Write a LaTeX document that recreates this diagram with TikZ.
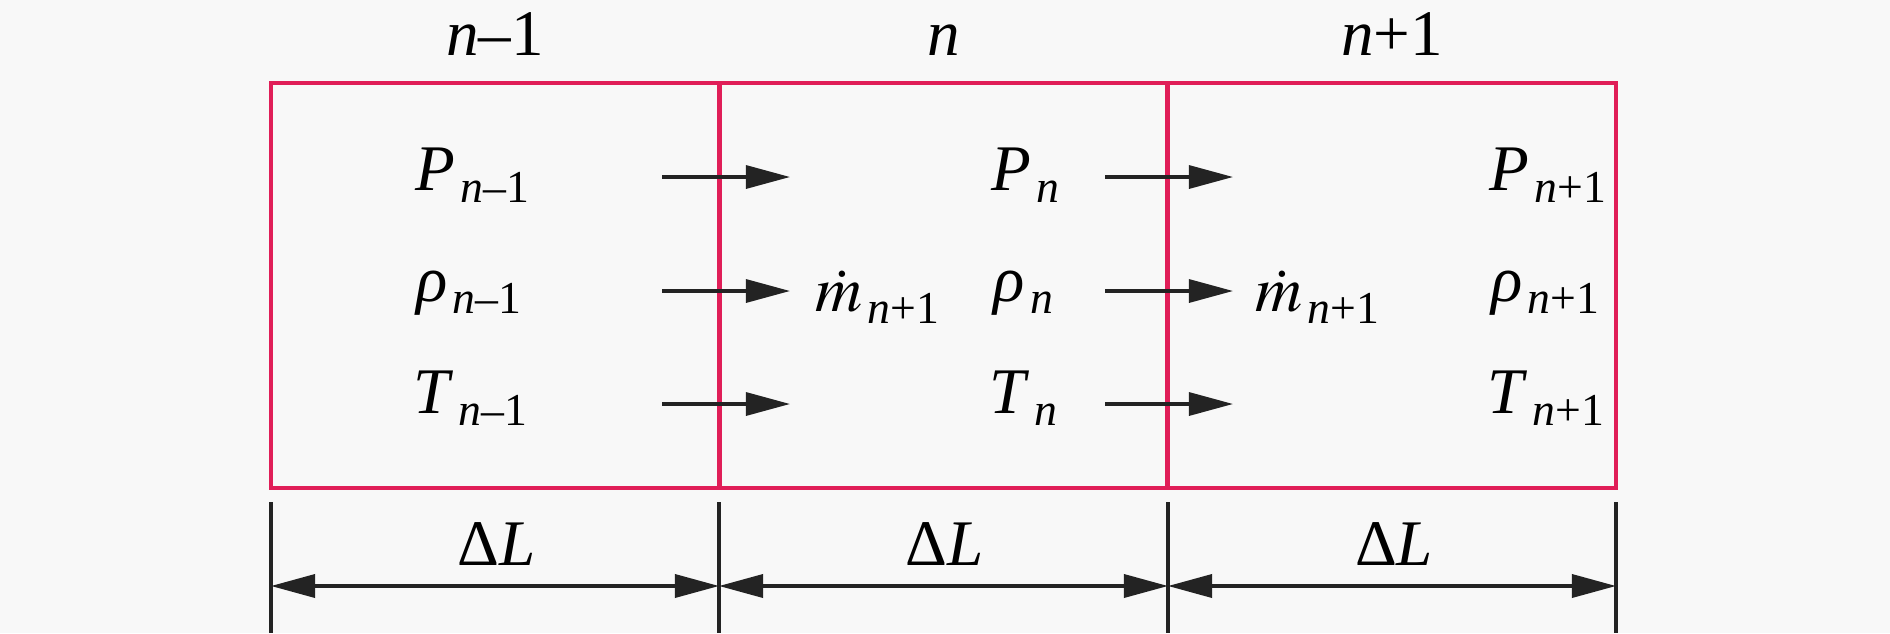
\documentclass[tikz,border=0pt]{standalone}
\usepackage{mathptmx}
\usepackage[no-math]{fontspec}
\setmainfont{Liberation Serif}
\usepackage{tikz}
\usetikzlibrary{
  arrows.meta,
  positioning
}
\definecolor{cellred}{RGB}{224,30,88}
\definecolor{inkgray}{RGB}{35,35,35}
\definecolor{paper}{RGB}{248,248,248}
\newcommand{\sub}[1]{\kern1.5pt\raisebox{-3.6pt}{\fontsize{13}{14}\selectfont\textit{n}#1}}

\begin{document}
\begin{tikzpicture}[
      x=0.01cm, y=-0.01cm,
      cell/.style={
         rectangle,
         draw=cellred,
         line width=1.3pt,
         minimum width=4.48cm,
         minimum height=4.05cm,
         inner sep=0pt
      },
      quantity/.style={
         anchor=base east,
         inner sep=0pt,
         font=\fontsize{18.5}{22}\selectfont
      },
      flux/.style={quantity, anchor=base west},
      index/.style={
         anchor=base,
         inner sep=0pt,
         font=\fontsize{18.5}{22}\selectfont
      },
      point/.style={coordinate},
      >={Triangle[length=4.4mm,width=2.3mm]},
      tip/.style={->,draw=inkgray,line width=0.9pt},
      dim/.style={<->,draw=inkgray,line width=1pt},
      tick/.style={draw=inkgray,line width=1.1pt}
    ]
    \fill[paper] (0,0) rectangle (1890,633);
    \useasboundingbox (0,0) rectangle (1890,633);
    % control volumes
    \node (c1) [cell] at (495,285.5) {};
    \node (c2) [cell] at (943.5,285.5) {};
    \node (c3) [cell] at (1392,285.5) {};
    \node (i1) [index] at (495,55) {\textit{n}\textendash1};
    \node (i2) [index] at (943.5,55) {\textit{n}};
    \node (i3) [index] at (1392,55) {\textit{n}+1};
    % cell quantities
    \node (p1) [quantity] at (530,190) {\textit{P}\sub{\textendash1}};
    \node (r1) [quantity] at (522,301) {\textit{ρ}\sub{\textendash1}};
    \node (t1) [quantity] at (528,413) {\textit{T}\sub{\textendash1}};
    \node (p2) [quantity] at (1060,190) {\textit{P}\sub{}};
    \node (r2) [quantity] at (1054,301) {\textit{ρ}\sub{}};
    \node (t2) [quantity] at (1058,413) {\textit{T}\sub{}};
    \node (p3) [quantity] at (1607,190) {\textit{P}\sub{+1}};
    \node (r3) [quantity] at (1600,301) {\textit{ρ}\sub{+1}};
    \node (t3) [quantity] at (1605,413) {\textit{T}\sub{+1}};
    \node (m1) [flux] at (815,311) {$\dot{m}$\sub{+1}};
    \node (m2) [flux] at (1255,311) {$\dot{m}$\sub{+1}};
    % transfer arrows
    \foreach \y [count=\r] in {177,291,404} {
      \node (u\r) [point] at (662,\y) {};
      \node (v\r) [point] at (790,\y) {};
      \node (w\r) [point] at (1105,\y) {};
      \node (z\r) [point] at (1233,\y) {};
      \draw[tip] (u\r) -- (v\r);
      \draw[tip] (w\r) -- (z\r);
    }
    % dimension lines
    \foreach \x [count=\i] in {271,719,1168,1616} {
      \node (k\i) [point] at (\x,502) {};
      \node (g\i) [point] at (\x,633) {};
      \node (d\i) [point] at (\x,586) {};
      \draw[tick] (k\i) -- (g\i);
    }
    \draw[dim] (d1) -- (d2);
    \draw[dim] (d2) -- (d3);
    \draw[dim] (d3) -- (d4);
    \node (l1) [index] at (497,565) {Δ\textit{L}};
    \node (l2) [index] at (945,565) {Δ\textit{L}};
    \node (l3) [index] at (1394,565) {Δ\textit{L}};
\end{tikzpicture}
\end{document}
